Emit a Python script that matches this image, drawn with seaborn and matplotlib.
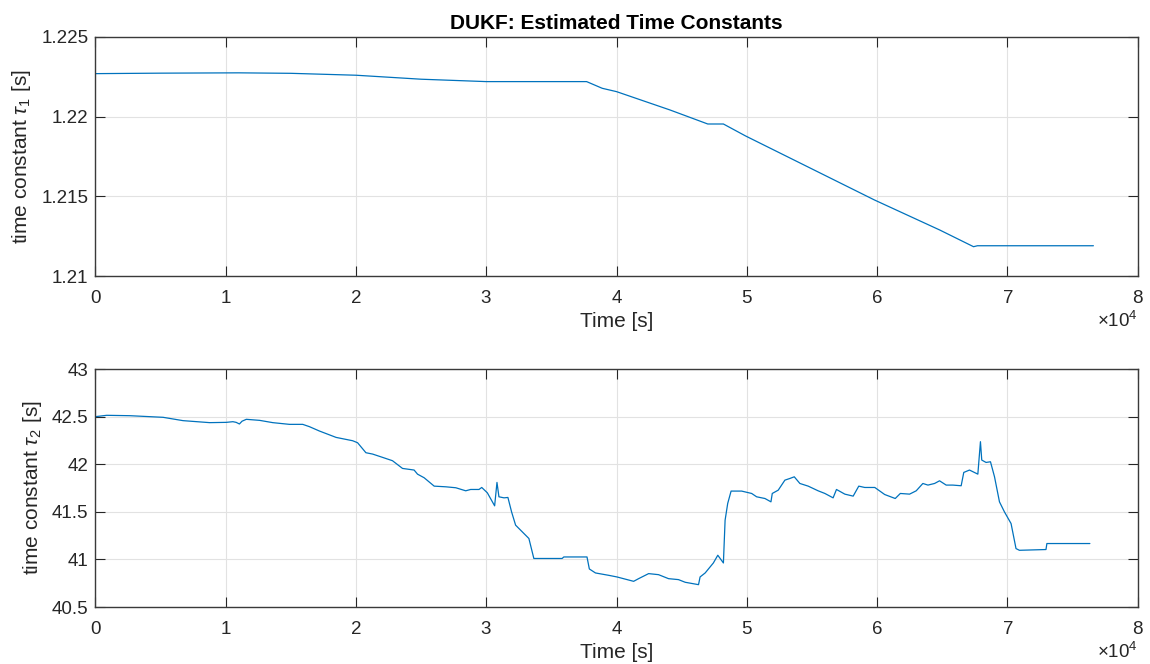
import matplotlib
matplotlib.use("Agg")
import matplotlib.pyplot as plt
import numpy as np
import pandas as pd
import seaborn as sns
from matplotlib.ticker import FuncFormatter, ScalarFormatter

# Estimated time constant tau_1 (fast) over the run
t1 = [0, 5000, 11000, 15000, 20000, 25000, 30000, 37700, 38900, 40000,
      44100, 47000, 48200, 49900, 54900, 59800, 64800, 67400, 67700, 76600]
tau1 = [1.2227, 1.22273, 1.22275, 1.22272, 1.2226, 1.22235, 1.2222, 1.2222,
        1.22178, 1.22157, 1.22042, 1.21954, 1.21954, 1.21879, 1.21676,
        1.21477, 1.21289, 1.21184, 1.2119, 1.2119]

# Estimated time constant tau_2 (slow) over the run
t2 = [0, 860, 2640, 5190, 6720, 8770, 10040, 10550, 10800, 11050, 11250, 11580,
      12600, 13610, 14890, 15910, 16420, 17190, 18470, 19740, 20120, 20760,
      21270, 22040, 22800, 23570, 24460, 24720, 25230, 26000, 26890, 27660,
      28420, 28800, 29440, 29650, 30080, 30640, 30820, 30970, 31360, 31660,
      31940, 32250, 32760, 33270, 33650, 35820, 35950, 37730, 37910, 38380,
      39400, 40030, 41310, 41690, 42460, 43220, 43990, 44750, 45270, 46290,
      46410, 46800, 47430, 47770, 48200, 48330, 48530, 48790, 49600, 50370,
      50750, 51390, 51850, 51950, 52410, 52920, 53310, 53640, 54070, 54710,
      55470, 55990, 56620, 56880, 57520, 58160, 58590, 59050, 59820, 60580,
      61390, 61780, 62490, 63000, 63510, 63900, 64410, 64790, 65300, 65810,
      66450, 66650, 67090, 67730, 67930, 68030, 68360, 68700, 69010, 69390,
      69770, 70280, 70660, 70920, 72960, 73030, 76330]
tau2 = [42.5, 42.514, 42.51, 42.493, 42.458, 42.437, 42.44, 42.447, 42.44,
        42.423, 42.452, 42.472, 42.461, 42.437, 42.419, 42.419, 42.395, 42.349,
        42.282, 42.247, 42.226, 42.121, 42.107, 42.072, 42.037, 41.956, 41.939,
        41.896, 41.858, 41.77, 41.763, 41.753, 41.721, 41.735, 41.735, 41.756,
        41.7, 41.563, 41.809, 41.658, 41.647, 41.651, 41.5, 41.36, 41.29, 41.22,
        41.01, 41.01, 41.026, 41.026, 40.90, 40.858, 40.833, 40.816, 40.77,
        40.798, 40.851, 40.84, 40.798, 40.788, 40.76, 40.735, 40.816, 40.858,
        40.963, 41.044, 40.963, 41.412, 41.588, 41.718, 41.718, 41.693, 41.658,
        41.64, 41.605, 41.693, 41.728, 41.833, 41.851, 41.868, 41.798, 41.77,
        41.721, 41.693, 41.647, 41.735, 41.686, 41.665, 41.77, 41.756, 41.756,
        41.682, 41.64, 41.693, 41.686, 41.721, 41.798, 41.781, 41.798, 41.826,
        41.781, 41.781, 41.774, 41.914, 41.939, 41.896, 42.237, 42.044, 42.019,
        42.026, 41.868, 41.605, 41.5, 41.377, 41.114, 41.096, 41.104, 41.167,
        41.167]

x_ticks = [0, 10000, 20000, 30000, 40000, 50000, 60000, 70000, 80000]
y1_ticks = [1.21, 1.215, 1.22, 1.225]
y2_ticks = [40.5, 41, 41.5, 42, 42.5, 43]

sns.set_theme(style="whitegrid")
plt.rcParams["font.family"] = ["Liberation Sans", "DejaVu Sans"]
plt.rcParams["mathtext.fontset"] = "custom"
plt.rcParams["mathtext.rm"] = "Liberation Sans"
plt.rcParams["mathtext.it"] = "Liberation Sans:italic"

LINE = "#0072BD"
AX_COL = "#262626"

fig = plt.figure(figsize=(11.5, 6.64), dpi=100)
ax1 = fig.add_axes([0.083, 0.5843, 0.9063, 0.36])
ax2 = fig.add_axes([0.083, 0.0858, 0.9063, 0.3584])

df1 = pd.DataFrame({"t": t1, "tau": tau1})
df2 = pd.DataFrame({"t": t2, "tau": tau2})
sns.lineplot(data=df1, x="t", y="tau", ax=ax1, color=LINE, linewidth=0.9,
             estimator=None, sort=False)
sns.lineplot(data=df2, x="t", y="tau", ax=ax2, color=LINE, linewidth=0.9,
             estimator=None, sort=False)

def style_axes(ax, yticks, ylabel):
    ax.set_xlim(0, 80000)
    ax.set_xticks(x_ticks)
    ax.set_ylim(yticks[0], yticks[-1])
    ax.set_yticks(yticks)
    ax.yaxis.set_major_formatter(FuncFormatter(lambda v, p: f"{v:g}"))
    fmt = ScalarFormatter(useMathText=True)
    fmt.set_powerlimits((0, 0))
    ax.xaxis.set_major_formatter(fmt)
    ax.xaxis.get_offset_text().set_fontsize(13.5)
    ax.xaxis.get_offset_text().set_color(AX_COL)
    ax.grid(True, color="#e2e2e2", linewidth=0.8)
    for s in ax.spines.values():
        s.set_visible(True)
        s.set_color("#3a3a3a")
        s.set_linewidth(1.0)
    ax.tick_params(axis="both", direction="in", length=7, width=0.8,
                   color=AX_COL, labelcolor=AX_COL, labelsize=13.5,
                   bottom=True, top=True, left=True, right=True)
    ax.tick_params(axis="x", pad=10)
    ax.tick_params(axis="y", pad=5)
    ax.set_xlabel("Time [s]", fontsize=15, color=AX_COL, labelpad=4)
    ax.set_ylabel(ylabel, fontsize=15, color=AX_COL, labelpad=6)

style_axes(ax1, y1_ticks, r"time constant $\tau_1$ [s]")
style_axes(ax2, y2_ticks, r"time constant $\tau_2$ [s]")
ax1.set_title("DUKF: Estimated Time Constants", fontsize=15, fontweight="bold",
              color="black", pad=6)

fig.savefig("out.png", dpi=100)
